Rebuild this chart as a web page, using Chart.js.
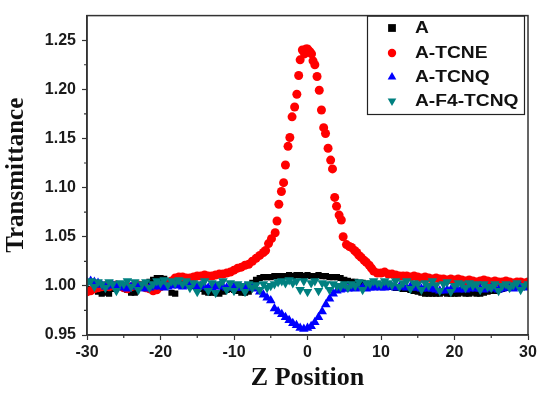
<!DOCTYPE html>
<html lang="en">
<head>
<meta charset="UTF-8" />
<title>Z-scan transmittance</title>
<script src="https://cdn.jsdelivr.net/npm/chart.js@4.4.0/dist/chart.umd.min.js"></script>
<style>
  html, body { margin: 0; padding: 0; background: #fff; }
  canvas { display: block; }
</style>
</head>
<body>
<canvas id="zscan" width="550" height="394"></canvas>
<script>
// Axis ticks
const xTicks = [-30, -20, -10, 0, 10, 20, 30];
const xMinor = [-25, -15, -5, 5, 15, 25];
const yTicks = [0.95, 1.00, 1.05, 1.10, 1.15, 1.20, 1.25];
const yMinor = [0.975, 1.025, 1.075, 1.125, 1.175, 1.225];

const seriesNames = ['A', 'A-TCNE', 'A-TCNQ', 'A-F4-TCNQ'];

// Z positions shared by A, A-TCNQ and A-F4-TCNQ
const zGrid = [
  -30, -29.5, -29, -28.5, -28, -27.5, -27, -26.5, -26, -25.5,
  -25, -24.5, -24, -23.5, -23, -22.5, -22, -21.5, -21, -20.5,
  -20, -19.5, -19, -18.5, -18, -17.5, -17, -16.5, -16, -15.5,
  -15, -14.5, -14, -13.5, -13, -12.5, -12, -11.5, -11, -10.5,
  -10, -9.5, -9, -8.5, -8, -7.5, -7, -6.5, -6, -5.5,
  -5, -4.5, -4, -3.5, -3, -2.5, -2, -1.5, -1, -0.5,
  0, 0.5, 1, 1.5, 2, 2.5, 3, 3.5, 4, 4.5,
  5, 5.5, 6, 6.5, 7, 7.5, 8, 8.5, 9, 9.5,
  10, 10.5, 11, 11.5, 12, 12.5, 13, 13.5, 14, 14.5,
  15, 15.5, 16, 16.5, 17, 17.5, 18, 18.5, 19, 19.5,
  20, 20.5, 21, 21.5, 22, 22.5, 23, 23.5, 24, 24.5,
  25, 25.5, 26, 26.5, 27, 27.5, 28, 28.5, 29, 29.5, 30
];

const tA = [
  0.997, 0.996, 0.998, 0.994, 0.992, 0.993, 0.992, 0.997, 0.999, 1.001,
  0.998, 0.996, 0.993, 0.993, 0.998, 1.001, 1.002, 1.004, 1.006, 1.008,
  1.008, 1.007, 1.002, 0.993, 0.992, 1.003, 1.004, 1.003, 1.002, 1.000,
  0.999, 0.997, 0.994, 0.993, 0.993, 0.993, 0.992, 0.994, 0.996, 0.997,
  0.996, 0.995, 0.993, 0.993, 0.994, 1.003, 1.006, 1.008, 1.009, 1.009,
  1.009, 1.010, 1.010, 1.010, 1.010, 1.011, 1.010, 1.011, 1.011, 1.010,
  1.011, 1.010, 1.010, 1.011, 1.010, 1.010, 1.009, 1.009, 1.009, 1.008,
  1.006, 1.005, 1.004, 1.004, 1.003, 1.003, 1.002, 1.002, 1.002, 1.001,
  1.000, 1.000, 0.999, 0.999, 0.998, 0.998, 0.997, 0.997, 0.996, 0.995,
  0.994, 0.993, 0.992, 0.992, 0.992, 0.992, 0.992, 0.993, 0.992, 0.992,
  0.992, 0.992, 0.993, 0.992, 0.992, 0.993, 0.992, 0.992, 0.993, 0.994,
  0.995, 0.995, 0.996, 0.997, 0.998, 0.998, 0.999, 0.999, 1.000, 0.999, 1.000
];

const tTCNQ = [
  1.004, 1.005, 1.004, 1.003, 1.001, 0.999, 1.000, 1.001, 1.000, 0.999,
  0.998, 0.997, 0.999, 1.000, 0.999, 0.998, 0.997, 0.998, 0.999, 1.000,
  0.999, 0.998, 0.999, 1.000, 1.001, 1.000, 0.999, 1.000, 1.001, 1.000,
  0.999, 1.000, 0.999, 0.998, 0.998, 0.999, 1.000, 0.999, 0.998, 0.998,
  0.999, 0.998, 0.998, 0.999, 0.998, 0.998, 0.997, 0.994, 0.991, 0.988,
  0.985, 0.977, 0.974, 0.971, 0.968, 0.965, 0.962, 0.960, 0.957, 0.956,
  0.957, 0.959, 0.963, 0.968, 0.974, 0.981, 0.987, 0.992, 0.995, 0.996,
  0.997, 0.997, 0.998, 0.997, 0.998, 0.998, 0.997, 0.998, 0.998, 0.999,
  0.998, 0.998, 0.999, 0.999, 0.998, 0.999, 0.999, 0.998, 0.999, 0.998,
  0.998, 0.997, 0.998, 0.997, 0.997, 0.996, 0.995, 0.995, 0.996, 0.996,
  0.997, 0.996, 0.997, 0.996, 0.997, 0.998, 0.997, 0.997, 0.996, 0.997,
  0.998, 0.997, 0.996, 0.997, 0.998, 0.998, 0.997, 0.998, 0.999, 0.998, 0.999
];

const tF4 = [
  1.003, 1.005, 0.999, 1.004, 1.002, 0.998, 1.004, 1.002, 0.995, 1.003,
  1.002, 1.005, 0.999, 1.004, 0.996, 1.002, 1.004, 0.998, 1.002, 1.005,
  1.003, 1.006, 1.001, 1.005, 1.003, 1.006, 1.002, 1.005, 0.998, 1.003,
  0.994, 1.002, 1.005, 0.995, 1.003, 0.993, 1.002, 1.005, 0.996, 1.003,
  0.995, 1.002, 1.000, 0.994, 1.002, 0.998, 1.001, 0.996, 1.002, 0.998,
  1.000, 1.002, 1.004, 1.005, 1.003, 1.006, 1.003, 1.005, 0.996, 1.005,
  0.994, 1.003, 1.005, 0.995, 1.003, 1.002, 0.996, 1.002, 1.000, 0.999,
  1.002, 0.998, 1.002, 1.000, 1.004, 0.996, 1.003, 1.002, 1.005, 1.003,
  1.002, 1.005, 1.003, 1.001, 1.005, 0.999, 1.003, 1.005, 0.997, 1.003,
  1.002, 0.996, 1.003, 1.000, 1.005, 1.001, 0.995, 1.002, 1.004, 0.994,
  1.000, 1.003, 1.002, 0.998, 1.003, 1.000, 1.002, 0.996, 1.002, 0.999,
  0.998, 1.002, 0.995, 1.000, 1.002, 0.998, 1.001, 1.003, 0.996, 1.000, 1.002
];

// A-TCNE was sampled more finely around the focus
const zTCNE = [
  -30, -29.5, -29, -28.5, -28, -27.5, -27, -26.5, -26, -25.5,
  -25, -24.5, -24, -23.5, -23, -22.5, -22, -21.5, -21, -20.5,
  -20, -19.5, -19, -18.5, -18, -17.5, -17, -16.5, -16, -15.5,
  -15, -14.5, -14, -13.5, -13, -12.5, -12, -11.5, -11, -10.5,
  -10, -9.5, -9, -8.5, -8, -7.5, -7, -6.5, -6, -5.7,
  -5.3, -4.9, -4.4, -4.15, -3.9, -3.55, -3.25, -3, -2.65, -2.4,
  -2.1, -1.75, -1.45, -1.2, -1, -0.7, -0.4, -0.2, 0, 0.2,
  0.35, 0.55, 0.75, 1, 1.3, 1.6, 1.9, 2.2, 2.45, 2.8,
  3.15, 3.4, 3.7, 3.95, 4.3, 4.6, 4.85, 5.3, 5.7, 6,
  6.4, 6.7, 7, 7.3, 7.7, 8, 8.4, 8.7, 9, 9.5,
  10, 10.5, 11, 11.5, 12, 12.5, 13, 13.5, 14, 14.5,
  15, 15.5, 16, 16.5, 17, 17.5, 18, 18.5, 19, 19.5,
  20, 20.5, 21, 21.5, 22, 22.5, 23, 23.5, 24, 24.5,
  25, 25.5, 26, 26.5, 27, 27.5, 28, 28.5, 29, 29.5, 30
];
const tTCNE = [
  0.994, 0.995, 0.997, 0.998, 0.999, 1.000, 0.999, 1.000, 1.001, 1.000,
  0.998, 0.997, 0.999, 1.000, 1.001, 1.000, 0.998, 0.997, 0.995, 0.996,
  0.999, 1.002, 1.003, 1.005, 1.008, 1.009, 1.009, 1.008, 1.008, 1.009,
  1.010, 1.010, 1.011, 1.010, 1.010, 1.011, 1.012, 1.012, 1.013, 1.014,
  1.016, 1.018, 1.019, 1.021, 1.022, 1.025, 1.028, 1.031, 1.034, 1.036,
  1.043, 1.048, 1.054, 1.066, 1.083, 1.096, 1.105, 1.123, 1.142, 1.151,
  1.172, 1.182, 1.195, 1.214, 1.230, 1.240, 1.236, 1.241, 1.241, 1.239,
  1.238, 1.236, 1.229, 1.225, 1.213, 1.199, 1.179, 1.161, 1.155, 1.140,
  1.128, 1.119, 1.090, 1.081, 1.072, 1.067, 1.050, 1.042, 1.040, 1.039,
  1.036, 1.034, 1.031, 1.029, 1.026, 1.024, 1.021, 1.018, 1.015, 1.013,
  1.013, 1.014, 1.012, 1.012, 1.011, 1.010, 1.010, 1.010, 1.009, 1.010,
  1.009, 1.008, 1.009, 1.008, 1.007, 1.008, 1.007, 1.007, 1.006, 1.007,
  1.006, 1.007, 1.006, 1.005, 1.006, 1.005, 1.004, 1.005, 1.006, 1.005,
  1.004, 1.005, 1.004, 1.004, 1.005, 1.004, 1.003, 1.004, 1.004, 1.003, 1.004
];

const pairs = (xs, ys) => xs.map((x, i) => ({ x, y: ys[i] }));

const AXIS = '#333';
const tickFont = { family: '"Liberation Sans", Arial, sans-serif', size: 16, weight: 'bold' };
const titleFont = { family: '"Liberation Serif", "Times New Roman", serif', weight: 'bold' };

// Box frame, minor ticks and the boxed legend
const framePlugin = {
  id: 'frame',
  afterDraw(chart) {
    const { ctx, chartArea: a, scales: { x, y } } = chart;
    ctx.save();
    ctx.strokeStyle = AXIS;
    ctx.lineWidth = 1.5;
    ctx.strokeRect(a.left, a.top, a.right - a.left, a.bottom - a.top);

    ctx.lineWidth = 1.2;
    ctx.beginPath();
    xMinor.forEach(v => {
      const px = x.getPixelForValue(v);
      ctx.moveTo(px, a.bottom); ctx.lineTo(px, a.bottom + 3);
    });
    yMinor.forEach(v => {
      const py = y.getPixelForValue(v);
      ctx.moveTo(a.left, py); ctx.lineTo(a.left - 3, py);
    });
    ctx.stroke();

    // legend
    const box = { left: 367, top: a.top, right: 524, bottom: 114 };
    ctx.lineWidth = 1.2;
    ctx.strokeStyle = '#222';
    ctx.strokeRect(box.left + 0.5, box.top + 0.5, box.right - box.left, box.bottom - box.top);
    const rowY = [28, 53, 77, 101];
    chart.data.datasets.forEach((ds, i) => {
      ctx.fillStyle = ds.backgroundColor;
      Chart.helpers.drawPoint(ctx, {
        pointStyle: ds.pointStyle, radius: ds.legendRadius,
        rotation: ds.rotation || 0, borderWidth: 0
      }, 392, rowY[i]);
      ctx.save();
      ctx.translate(415, rowY[i] + 1);
      ctx.scale(1.2, 1);
      ctx.fillStyle = '#111';
      ctx.font = 'bold 16px "Liberation Sans", Arial, sans-serif';
      ctx.textBaseline = 'middle';
      ctx.fillText(ds.label, 0, 0);
      ctx.restore();
    });
    ctx.restore();
  }
};

new Chart(document.getElementById('zscan'), {
  type: 'scatter',
  data: {
    datasets: [
      { label: seriesNames[0], data: pairs(zGrid, tA), backgroundColor: '#000000',
        pointStyle: 'rect', pointRadius: 4.4, legendRadius: 5.5, order: 4 },
      { label: seriesNames[1], data: pairs(zTCNE, tTCNE), backgroundColor: '#ff0000',
        pointStyle: 'circle', pointRadius: 4.5, legendRadius: 4.2, order: 3 },
      { label: seriesNames[2], data: pairs(zGrid, tTCNQ), backgroundColor: '#0000ff',
        pointStyle: 'triangle', pointRadius: 5.5, legendRadius: 5, order: 2 },
      { label: seriesNames[3], data: pairs(zGrid, tF4), backgroundColor: '#008080',
        pointStyle: 'triangle', rotation: 180, pointRotation: 180, pointRadius: 5.5, legendRadius: 5, order: 1 },
    ],
  },
  options: {
    responsive: false,
    animation: false,
    devicePixelRatio: 1,
    layout: { padding: { top: 11, right: 22, left: 0, bottom: 0 } },
    elements: { point: { borderWidth: 0, hoverRadius: 5 } },
    plugins: { legend: { display: false }, tooltip: { enabled: false } },
    scales: {
      x: {
        type: 'linear', min: -30, max: 30,
        afterBuildTicks: s => { s.ticks = xTicks.map(v => ({ value: v })); },
        afterFit: s => { s.height = 59; },
        grid: { drawOnChartArea: false, tickLength: 5, tickColor: AXIS, tickWidth: 1.2 },
        border: { display: true, color: AXIS, width: 1.5 },
        ticks: { color: '#1a1a1a', font: tickFont, padding: 3, maxRotation: 0, callback: v => String(v) },
        title: { display: true, text: 'Z Position', color: '#111',
                 font: { ...titleFont, size: 26 }, padding: { top: 0, bottom: 0 } },
      },
      y: {
        type: 'linear', min: 0.95, max: 1.275,
        afterBuildTicks: s => { s.ticks = yTicks.map(v => ({ value: v })); },
        afterFit: s => { s.width = 87; },
        grid: { drawOnChartArea: false, tickLength: 5, tickColor: AXIS, tickWidth: 1.2 },
        border: { display: true, color: AXIS, width: 1.5 },
        ticks: { color: '#1a1a1a', font: tickFont, padding: 6, callback: v => v.toFixed(2) },
        title: { display: true, text: 'Transmittance', color: '#111',
                 font: { ...titleFont, size: 25 }, padding: { top: 2, bottom: 0 } },
      },
    },
  },
  plugins: [framePlugin],
});
</script>
</body>
</html>
